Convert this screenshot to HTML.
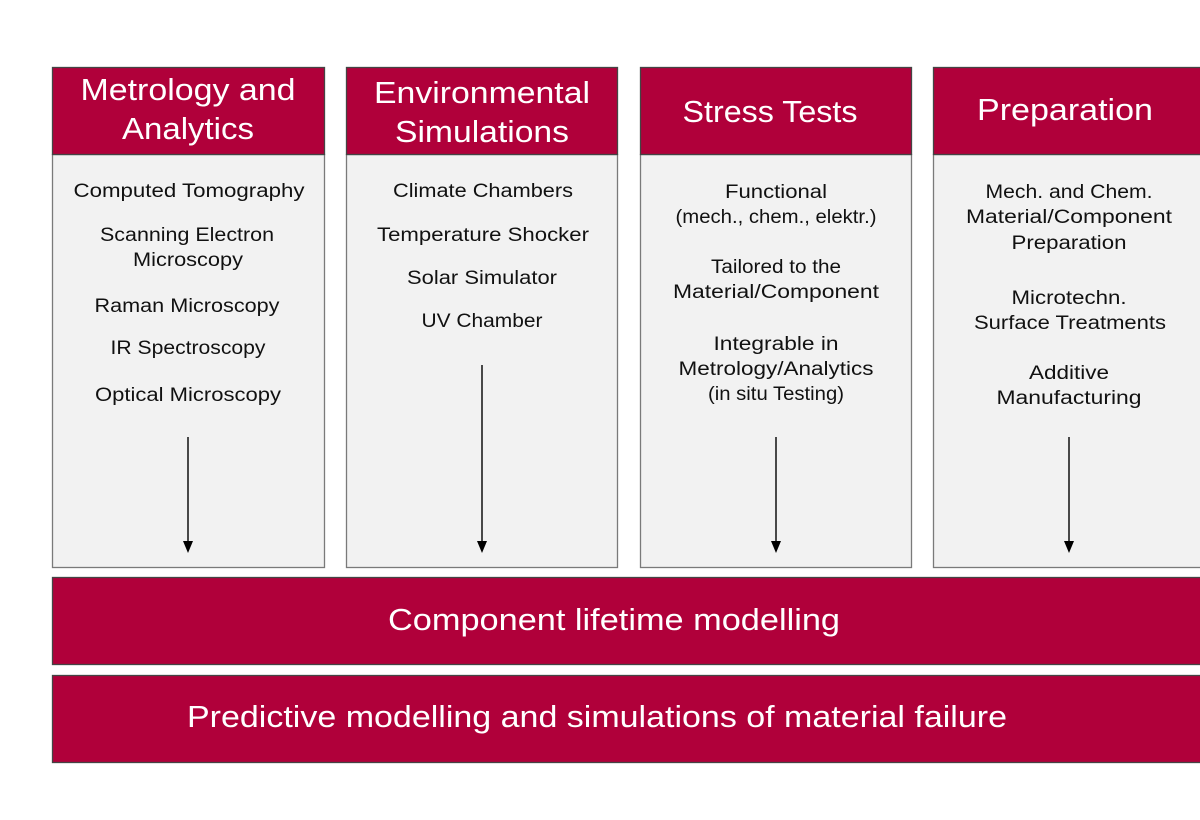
<!DOCTYPE html>
<html><head><meta charset="utf-8"><style>
html,body{margin:0;padding:0;background:#fff;width:1200px;height:820px;overflow:hidden}
svg text{font-family:"Liberation Sans",sans-serif;text-anchor:middle}
.b{font-size:19px;fill:#111}
.h{font-size:31px;fill:#fff}
</style></head><body>
<svg width="1200" height="820" viewBox="0 0 1200 820" xmlns="http://www.w3.org/2000/svg">
<g stroke="#7a7a7a" stroke-width="1.3" fill="#f2f2f2">
<rect x="52.5" y="154.5" width="272" height="413"/>
<rect x="346.5" y="154.5" width="271" height="413"/>
<rect x="640.5" y="154.5" width="271" height="413"/>
<rect x="933.5" y="154.5" width="280" height="413"/>
</g>
<g stroke="#444" stroke-width="1.3" fill="#b0003a">
<rect x="52.5" y="67.5" width="272" height="87"/>
<rect x="346.5" y="67.5" width="271" height="87"/>
<rect x="640.5" y="67.5" width="271" height="87"/>
<rect x="933.5" y="67.5" width="280" height="87"/>
<rect x="52.5" y="577.5" width="1160" height="87"/>
<rect x="52.5" y="675.5" width="1160" height="87"/>
</g>
<g stroke="#111" stroke-width="1.5">
<line x1="188" y1="437" x2="188" y2="543"/>
<line x1="482" y1="365" x2="482" y2="543"/>
<line x1="776" y1="437" x2="776" y2="543"/>
<line x1="1069" y1="437" x2="1069" y2="543"/>
</g>
<g fill="#000">
<polygon points="183,541 193,541 188,553"/>
<polygon points="477,541 487,541 482,553"/>
<polygon points="771,541 781,541 776,553"/>
<polygon points="1064,541 1074,541 1069,553"/>
</g>
<text class="h" x="188" y="100" textLength="215" lengthAdjust="spacingAndGlyphs">Metrology and</text>
<text class="h" x="188" y="139" textLength="132" lengthAdjust="spacingAndGlyphs">Analytics</text>
<text class="h" x="482" y="103" textLength="216" lengthAdjust="spacingAndGlyphs">Environmental</text>
<text class="h" x="482" y="142" textLength="174" lengthAdjust="spacingAndGlyphs">Simulations</text>
<text class="h" x="770" y="122" textLength="175" lengthAdjust="spacingAndGlyphs">Stress Tests</text>
<text class="h" x="1065" y="120" textLength="176" lengthAdjust="spacingAndGlyphs">Preparation</text>
<text class="h" x="614" y="630" textLength="452" lengthAdjust="spacingAndGlyphs">Component lifetime modelling</text>
<text class="h" x="597" y="727" textLength="820" lengthAdjust="spacingAndGlyphs">Predictive modelling and simulations of material failure</text>
<text class="b" x="189" y="197" textLength="231" lengthAdjust="spacingAndGlyphs">Computed Tomography</text>
<text class="b" x="187" y="241" textLength="174" lengthAdjust="spacingAndGlyphs">Scanning Electron</text>
<text class="b" x="188" y="266" textLength="110" lengthAdjust="spacingAndGlyphs">Microscopy</text>
<text class="b" x="187" y="312" textLength="185" lengthAdjust="spacingAndGlyphs">Raman Microscopy</text>
<text class="b" x="188" y="354" textLength="155" lengthAdjust="spacingAndGlyphs">IR Spectroscopy</text>
<text class="b" x="188" y="401" textLength="186" lengthAdjust="spacingAndGlyphs">Optical Microscopy</text>
<text class="b" x="483" y="197" textLength="180" lengthAdjust="spacingAndGlyphs">Climate Chambers</text>
<text class="b" x="483" y="241" textLength="212" lengthAdjust="spacingAndGlyphs">Temperature Shocker</text>
<text class="b" x="482" y="284" textLength="150" lengthAdjust="spacingAndGlyphs">Solar Simulator</text>
<text class="b" x="482" y="327" textLength="121" lengthAdjust="spacingAndGlyphs">UV Chamber</text>
<text class="b" x="776" y="198" textLength="102" lengthAdjust="spacingAndGlyphs">Functional</text>
<text class="b" x="776" y="223" textLength="201" lengthAdjust="spacingAndGlyphs">(mech., chem., elektr.)</text>
<text class="b" x="776" y="273" textLength="130" lengthAdjust="spacingAndGlyphs">Tailored to the</text>
<text class="b" x="776" y="298" textLength="206" lengthAdjust="spacingAndGlyphs">Material/Component</text>
<text class="b" x="776" y="350" textLength="125" lengthAdjust="spacingAndGlyphs">Integrable in</text>
<text class="b" x="776" y="375" textLength="195" lengthAdjust="spacingAndGlyphs">Metrology/Analytics</text>
<text class="b" x="776" y="400" textLength="136" lengthAdjust="spacingAndGlyphs">(in situ Testing)</text>
<text class="b" x="1069" y="198" textLength="167" lengthAdjust="spacingAndGlyphs">Mech. and Chem.</text>
<text class="b" x="1069" y="223" textLength="206" lengthAdjust="spacingAndGlyphs">Material/Component</text>
<text class="b" x="1069" y="249" textLength="115" lengthAdjust="spacingAndGlyphs">Preparation</text>
<text class="b" x="1069" y="304" textLength="115" lengthAdjust="spacingAndGlyphs">Microtechn.</text>
<text class="b" x="1070" y="329" textLength="192" lengthAdjust="spacingAndGlyphs">Surface Treatments</text>
<text class="b" x="1069" y="379" textLength="80" lengthAdjust="spacingAndGlyphs">Additive</text>
<text class="b" x="1069" y="404" textLength="145" lengthAdjust="spacingAndGlyphs">Manufacturing</text>
</svg>
</body></html>
